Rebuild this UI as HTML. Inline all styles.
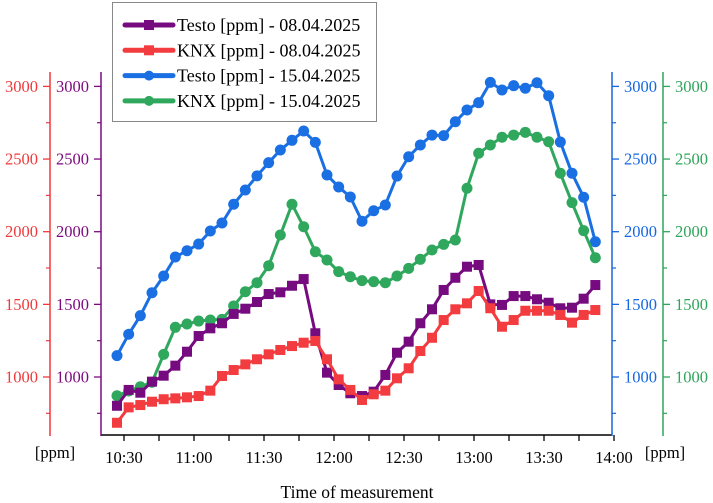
<!DOCTYPE html>
<html><head><meta charset="utf-8"><style>
body{margin:0;background:#fff}
svg{display:block;font-family:"Liberation Serif",serif}
</style></head><body>
<svg id="c" width="713" height="503"></svg>
<script>
const startMin = -3; // minutes after 10:30 of first sample
const stepMin = 5;
const testo0804 = [802,911,892,968,1009,1078,1174,1282,1335,1370,1434,1470,1516,1571,1583,1628,1674,1301,1030,945,888,869,899,1014,1167,1243,1370,1466,1599,1683,1759,1771,1500,1496,1557,1557,1535,1511,1473,1477,1539,1633];
const knx0804 = [685,791,807,830,847,853,860,869,906,1007,1048,1087,1122,1156,1186,1213,1236,1248,1122,984,911,842,881,906,991,1060,1179,1270,1392,1466,1507,1592,1473,1346,1392,1456,1456,1456,1427,1374,1427,1461];
const testo1504 = [1147,1294,1422,1580,1695,1826,1869,1915,2005,2060,2189,2287,2384,2475,2562,2629,2693,2615,2390,2308,2239,2072,2144,2184,2383,2516,2597,2665,2661,2757,2838,2888,3028,2975,3005,2987,3025,2936,2617,2402,2237,1931];
const knx1504 = [871,904,933,964,1156,1342,1365,1385,1392,1397,1489,1587,1649,1766,1977,2189,2034,1862,1805,1725,1690,1663,1656,1649,1695,1748,1810,1874,1913,1943,2299,2540,2597,2650,2665,2684,2650,2619,2402,2200,2007,1821];
const xTicks = ["10:30","11:00","11:30","12:00","12:30","13:00","13:30","14:00"];
const yTicks = [1000,1500,2000,2500,3000];
const yMinor = [750,1250,1750,2250,2750];

const NS="http://www.w3.org/2000/svg";
const svg=document.getElementById('c');
function el(t,a,p){const e=document.createElementNS(NS,t);for(const k in a)e.setAttribute(k,a[k]);(p||svg).appendChild(e);return e;}
const X=m=>124+m*35/15;
const Y=v=>377-(v-1000)*0.1453;
const yTop=72,yBot=435;

// x axis
const xa=el('g',{});


el('line',{x1:101,y1:yBot,x2:612,y2:yBot,stroke:'#000','stroke-width':1.5},xa);
for(let m=0;m<=210;m+=15){el('line',{x1:X(m),y1:yBot,x2:X(m),y2:yBot+6,stroke:'#000','stroke-width':1.3},xa);}
xTicks.forEach((t,i)=>{const tx=el('text',{x:X(i*30),y:463,'text-anchor':'middle','font-size':16.5,fill:'#000'},xa);tx.textContent=t;

});
const xt=el('text',{x:357,y:498,'text-anchor':'middle','font-size':17.5,fill:'#000'});xt.textContent='Time of measurement';



function yAxis(x,color,side,name){
  const g=el('g',{});
  
  
  el('line',{x1:x,y1:yTop,x2:x,y2:yBot+1,stroke:color,'stroke-width':1.5},g);
  const d=side==='left'?-1:1;
  yTicks.forEach(v=>{el('line',{x1:x,y1:Y(v),x2:x+d*7,y2:Y(v),stroke:color,'stroke-width':1.3},g);
    const t=el('text',{x:x+d*12,y:Y(v)+5.5,'text-anchor':side==='left'?'end':'start','font-size':16.5,fill:color},g);t.textContent=v;});
  yMinor.forEach(v=>el('line',{x1:x,y1:Y(v),x2:x+d*4,y2:Y(v),stroke:color,'stroke-width':1.2},g));
}
yAxis(50,'#f0393c','left','knx-0804-axis');
yAxis(101,'#7d0a7f','left','testo-0804-axis');
yAxis(612,'#1667e0','right','testo-1504-axis');
yAxis(663,'#2ea55a','right','knx-1504-axis');
const u1=el('text',{x:55,y:458,'text-anchor':'middle','font-size':16.5});u1.textContent='[ppm]';


const u2=el('text',{x:665,y:458,'text-anchor':'middle','font-size':16.5});u2.textContent='[ppm]';



function series(data,color,marker,name){
  const g=el('g',{});
  
  
  const pts=data.map((v,i)=>[X(startMin+i*stepMin),Y(v)]);
  el('polyline',{points:pts.map(p=>p.join(',')).join(' '),fill:'none',stroke:color,'stroke-width':3,'stroke-linejoin':'round'},g);
  pts.forEach(p=>{
    const m=marker==='sq'?el('rect',{x:p[0]-5,y:p[1]-5,width:10,height:10,fill:color},g):el('circle',{cx:p[0],cy:p[1],r:5.5,fill:color},g);
    
    
  });
}
series(testo1504,'#1a6fe3','c','series-testo-1504');
series(knx1504,'#2fa75c','c','series-knx-1504');
series(testo0804,'#760b80','sq','series-testo-0804');
series(knx0804,'#f23c3f','sq','series-knx-0804');

// legend
const lg=el('g',{});


el('rect',{x:112.5,y:2.5,width:264,height:119,fill:'#fff',stroke:'#888','stroke-width':1},lg);
const legItems=[['Testo [ppm] - 08.04.2025','#760b80','sq'],['KNX [ppm] - 08.04.2025','#f23c3f','sq'],['Testo [ppm] - 15.04.2025','#1a6fe3','c'],['KNX [ppm] - 15.04.2025','#2fa75c','c']];
legItems.forEach((it,i)=>{
  const y=25+i*25.3;
  const e=el('g',{},lg);
  
  
  el('line',{x1:125,y1:y,x2:173,y2:y,stroke:it[1],'stroke-width':5,'stroke-linecap':'round'},e);
  if(it[2]==='sq')el('rect',{x:144,y:y-5,width:10,height:10,fill:it[1]},e);else el('circle',{cx:149,cy:y,r:5,fill:it[1]},e);
  const t=el('text',{x:177,y:y+6,'font-size':18,fill:'#000'},e);t.textContent=it[0];
});
</script>
</body></html>
